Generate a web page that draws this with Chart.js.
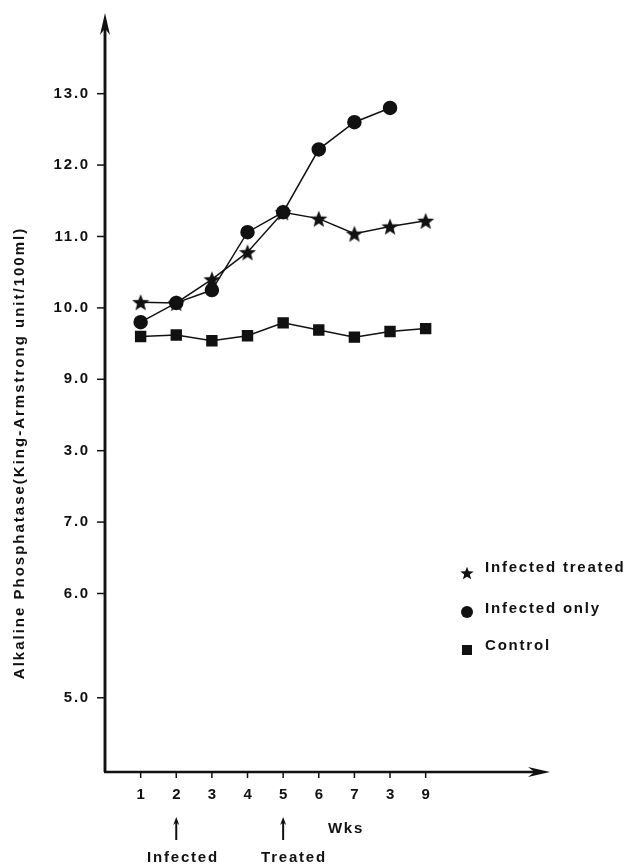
<!DOCTYPE html>
<html>
<head>
<meta charset="utf-8">
<script src="https://cdn.jsdelivr.net/npm/chart.js@4/dist/chart.umd.min.js"></script>
<style>
  html, body { margin: 0; padding: 0; background: #fff; }
  #wrap { width: 637px; height: 865px; position: relative; }
</style>
</head>
<body>
<div id="wrap"><canvas id="fosfatasa"></canvas></div>
<script>
(() => {
    // semanas y valores
    const semanas = [1, 2, 3, 4, 5, 6, 7, 8, 9];
    const etiquetasSemana = ["1", "2", "3", "4", "5", "6", "7", "3", "9"];
    const infectadoTratado = [10.08, 10.07, 10.40, 10.78, 11.34, 11.25, 11.04, 11.14, 11.22];
    const soloInfectado = [9.80, 10.07, 10.25, 11.06, 11.34, 12.22, 12.60, 12.80, null];
    const control = [9.60, 9.62, 9.54, 9.61, 9.79, 9.69, 9.59, 9.67, 9.71];

    // el eje original no es regular: el 5.0 queda mas abajo
    const posTicksY = [13, 12, 11, 10, 9, 8, 7, 6, 4.54];
    const etiquetasY = ["13.0", "12.0", "11.0", "10.0", "9.0", "3.0", "7.0", "6.0", "5.0"];

    const negro = "#111";
    const fuente = "bold 15px 'Liberation Sans', Arial, sans-serif";

    function puntos(valores) {
        return semanas.map((s, i) => ({ x: s, y: valores[i] }));
    }

    // estrella rellena de 5 puntas como imagen de punto
    function hacerEstrella(r) {
        const c = document.createElement("canvas");
        c.width = c.height = Math.ceil(r * 2 + 2);
        const g = c.getContext("2d");
        const cx = c.width / 2, cy = c.height / 2 + r * 0.1;
        g.beginPath();
        for (let k = 0; k < 10; k++) {
            const rad = k % 2 === 0 ? r : r * 0.42;
            const ang = -Math.PI / 2 + k * Math.PI / 5;
            const px = cx + rad * Math.cos(ang), py = cy + rad * Math.sin(ang);
            if (k === 0) g.moveTo(px, py); else g.lineTo(px, py);
        }
        g.closePath();
        g.fillStyle = negro;
        g.fill();
        return c;
    }
    const estrella = hacerEstrella(9);
    const estrellaChica = hacerEstrella(7);

    function flecha(ctx, x1, y1, x2, y2, largo, ancho) {
        const ang = Math.atan2(y2 - y1, x2 - x1);
        ctx.beginPath();
        ctx.moveTo(x1, y1);
        ctx.lineTo(x2 - Math.cos(ang) * largo * 0.6, y2 - Math.sin(ang) * largo * 0.6);
        ctx.stroke();
        ctx.beginPath();
        ctx.moveTo(x2, y2);
        ctx.lineTo(x2 - Math.cos(ang) * largo - Math.sin(ang) * ancho, y2 - Math.sin(ang) * largo + Math.cos(ang) * ancho);
        ctx.lineTo(x2 - Math.cos(ang) * largo * 0.7, y2 - Math.sin(ang) * largo * 0.7);
        ctx.lineTo(x2 - Math.cos(ang) * largo + Math.sin(ang) * ancho, y2 - Math.sin(ang) * largo - Math.cos(ang) * ancho);
        ctx.closePath();
        ctx.fill();
    }

    const ejesYTextos = {
        id: "ejesYTextos",
        afterDraw(chart) {
            const ctx = chart.ctx;
            const area = chart.chartArea;
            const sx = chart.scales.x, sy = chart.scales.y;
            ctx.save();
            ctx.strokeStyle = negro;
            ctx.fillStyle = negro;

            // ejes con flecha
            ctx.lineWidth = 2.5;
            ctx.beginPath();
            ctx.moveTo(area.left, area.bottom);
            ctx.lineTo(area.left, area.top + 10);
            ctx.stroke();
            flecha(ctx, area.left, area.bottom, area.left, area.top, 22, 5);
            flecha(ctx, area.left - 1, area.bottom, area.right, area.bottom, 22, 5);

            // ticks y
            ctx.lineWidth = 1.5;
            ctx.font = fuente;
            ctx.letterSpacing = "1.8px";
            ctx.textAlign = "right";
            ctx.textBaseline = "middle";
            posTicksY.forEach((v, i) => {
                const py = sy.getPixelForValue(v);
                ctx.beginPath();
                ctx.moveTo(area.left - 8, py);
                ctx.lineTo(area.left, py);
                ctx.stroke();
                ctx.fillText(etiquetasY[i], area.left - 15, py);
            });

            // ticks x
            ctx.textAlign = "center";
            semanas.forEach((s, i) => {
                const px = sx.getPixelForValue(s);
                ctx.beginPath();
                ctx.moveTo(px, area.bottom);
                ctx.lineTo(px, area.bottom + 6);
                ctx.stroke();
                ctx.fillText(etiquetasSemana[i], px + 1, area.bottom + 23);
            });

            // flechas de infectado / tratado
            ctx.lineWidth = 2;
            [2, 5].forEach(s => {
                const px = sx.getPixelForValue(s);
                flecha(ctx, px, 840, px, 817, 8, 3);
            });
            ctx.fillText("Wks", 346, 829);
            ctx.fillText("Infected", 183, 858);
            ctx.fillText("Treated", 294, 858);

            // leyenda
            ctx.textAlign = "left";
            ctx.drawImage(estrellaChica, 467 - estrellaChica.width / 2, 573 - estrellaChica.height / 2);
            ctx.fillText("Infected treated", 485, 568);
            ctx.beginPath();
            ctx.arc(467, 612, 6, 0, Math.PI * 2);
            ctx.fill();
            ctx.fillText("Infected only", 485, 609);
            ctx.fillRect(462, 645, 10, 10);
            ctx.fillText("Control", 485, 646);

            // titulo del eje y
            ctx.textAlign = "center";
            ctx.translate(20, 453);
            ctx.rotate(-Math.PI / 2);
            ctx.letterSpacing = "2px";
            ctx.fillText("Alkaline Phosphatase(King-Armstrong unit/100ml)", 0, 0);
            ctx.restore();
        }
    };

    const ctx = document.getElementById("fosfatasa");
    new Chart(ctx, {
        type: "line",
        data: {
            datasets: [
                {
                    label: "Infected treated",
                    data: puntos(infectadoTratado),
                    pointStyle: estrella,
                    borderColor: negro,
                    backgroundColor: negro,
                    borderWidth: 1.5
                },
                {
                    label: "Infected only",
                    data: puntos(soloInfectado),
                    pointStyle: "circle",
                    pointRadius: 6.5,
                    borderColor: negro,
                    backgroundColor: negro,
                    borderWidth: 1.5
                },
                {
                    label: "Control",
                    data: puntos(control),
                    pointStyle: "rect",
                    pointRadius: 7,
                    borderColor: negro,
                    backgroundColor: negro,
                    borderWidth: 1.5
                }
            ]
        },
        options: {
            responsive: true,
            maintainAspectRatio: false,
            animation: false,
            spanGaps: false,
            layout: { padding: { left: 105, right: 87, top: 13, bottom: 93 } },
            scales: {
                x: { type: "linear", min: 0, max: 12.49, display: false },
                y: { type: "linear", min: 3.5, max: 14.13, display: false }
            },
            plugins: {
                legend: { display: false },
                tooltip: { enabled: false }
            }
        },
        plugins: [ejesYTextos]
    });
})();
</script>
</body>
</html>
